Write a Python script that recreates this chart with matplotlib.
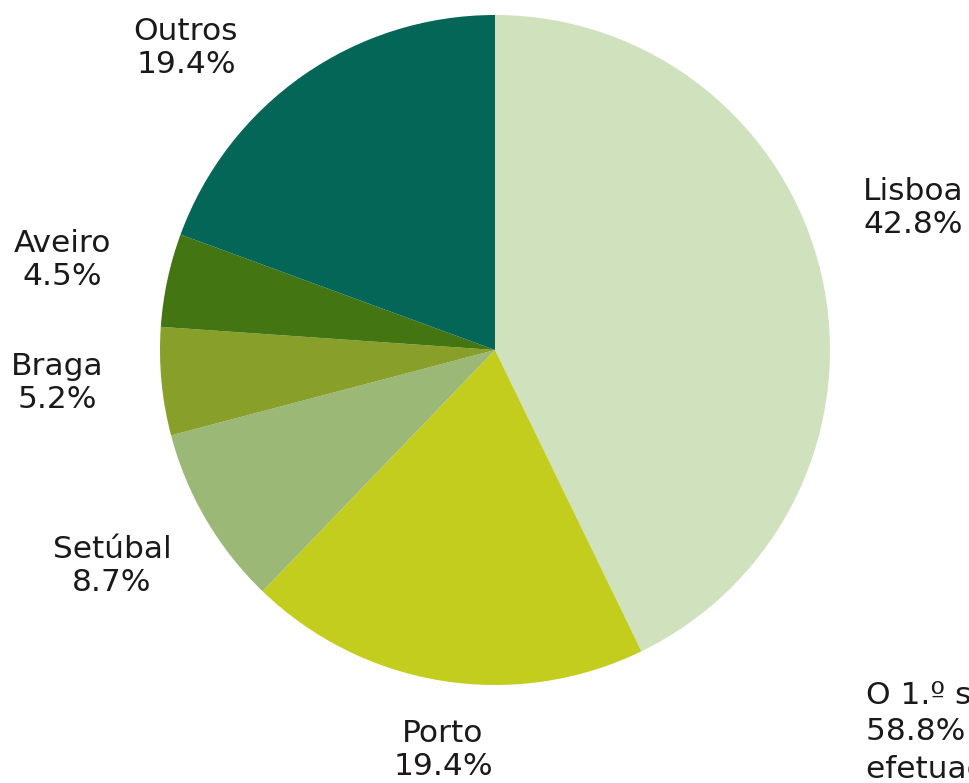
import matplotlib
matplotlib.use("Agg")
import matplotlib.pyplot as plt

categories = ["Lisboa", "Porto", "Setúbal", "Braga", "Aveiro", "Outros"]
values = [42.8, 19.4, 8.7, 5.2, 4.5, 19.4]
colors = ["#cfe1bd", "#c3cd1d", "#9cb877", "#889f2a", "#437513", "#036657"]
# label centres in pixel coords (x, y from top)
label_pos = [(913, 208), (443, 750), (112, 566), (57, 383), (62, 260), (186, 48)]
note_lines = ["O 1.º semestre", "58.8% das vendas", "efetuadas em"]

W, H = 969, 783
fig = plt.figure(figsize=(W / 100, H / 100), dpi=100)
ax = fig.add_axes([0, 0, 1, 1])
ax.set_xlim(0, W)
ax.set_ylim(0, H)
ax.set_aspect("equal")
ax.axis("off")

cx, cy, r = 495, H - 350, 335
ax.pie(values, colors=colors, startangle=90, counterclock=False,
       center=(cx, cy), radius=r, frame=True,
       wedgeprops=dict(linewidth=0))
ax.set_xlim(0, W)
ax.set_ylim(0, H)
ax.axis("off")

fam = ["DejaVu Sans"]
fs = 22.5
for cat, v, (x, y) in zip(categories, values, label_pos):
    ax.text(x, H - y, f"{cat}\n{v:.1f}%", ha="center", va="center",
            fontsize=fs, family=fam, color="#1a1a1a", linespacing=1.15)

for i, line in enumerate(note_lines):
    ax.text(866, H - (695 + 37 * i), line, ha="left", va="center",
            fontsize=fs, family=fam, color="#1a1a1a")

fig.savefig("out.png", dpi=100)
